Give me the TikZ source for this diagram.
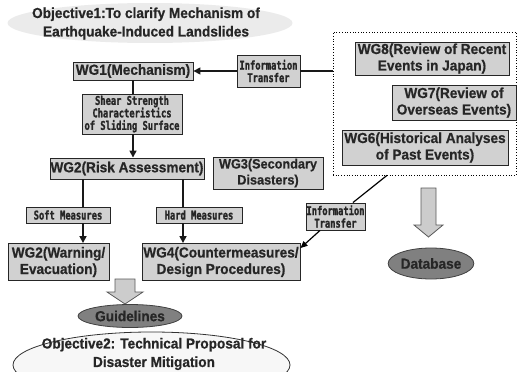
\documentclass[tikz,border=0pt]{standalone}
\usepackage{fontspec}
\setmainfont{Liberation Sans}[FakeStretch=0.94]
\newfontfamily\mainbold{Liberation Sans Bold}[FakeStretch=0.94,FakeBold=0.6]
\newfontfamily\lblfont{DejaVu Sans Mono Bold}[FakeStretch=0.73,FakeBold=1.6]
\usetikzlibrary{arrows.meta,shapes.geometric,calc}
\newcommand\mainf{\mainbold\fontsize{14.5}{16.5}\selectfont}
\newcommand\objf{\mainbold\fontsize{14.5}{18.5}\selectfont}
\newcommand\lblf{\lblfont\fontsize{12}{12.5}\selectfont}
\tikzset{
  wgbox/.style={draw=black!85, fill=black!18, line width=0.9pt, inner sep=0pt,
    align=center, text=black!85, font=\mainf},
  lblbox/.style={wgbox, font=\lblf},
  blob/.style={ellipse, draw=black!75, fill=black!50, line width=0.8pt, inner sep=0pt,
    text=black!85, font=\mainf},
  conn/.style={line width=1.6pt, draw=black!90},
  tip/.style={-{Triangle[length=7pt,width=7pt]}},
  fatarrow/.style={fill=black!20, draw=black!65, line width=0.8pt, line join=miter}
}
\begin{document}
\begin{tikzpicture}[x=1pt,y=-1pt]
\useasboundingbox (0,0) rectangle (517,372);
\clip (0,0) rectangle (517,372);
% objective 1
\fill[black!8] (150,23) ellipse [x radius=142.5, y radius=20];
\node[align=center, font=\objf, text=black!85, inner sep=0pt] (obj1) at (146,23.5)
  {Objective1:To clarify Mechanism of\\Earthquake-Induced Landslides};
% group box
\node[draw=black, dotted, line width=0.7pt, minimum width=183pt, minimum height=143pt, inner sep=0pt] (grp) at (424.5,103.5) {};
\node[wgbox, minimum width=154pt, minimum height=33pt] (wg8) at (432,58.5) {WG8(Review of Recent\\Events in Japan)};
\node[wgbox, minimum width=124pt, minimum height=35pt] (wg7) at (454,102.5) {WG7(Review of\\Overseas Events)};
\node[wgbox, minimum width=166pt, minimum height=35pt] (wg6) at (425,147.5) {WG6(Historical Analyses\\of Past Events)};
% left column
\node[wgbox, minimum width=120pt, minimum height=18pt] (wg1) at (133,71) {WG1(Mechanism)};
\node[lblbox, minimum width=63pt, minimum height=32pt] (info1) at (268.5,71) {Information\\Transfer};
\node[lblbox, minimum width=100pt, minimum height=40pt] (shear) at (132,114) {Shear Strength\\Characteristics\\of Sliding Surface};
\node[wgbox, minimum width=154pt, minimum height=21pt] (wg2) at (127,168.5) {WG2(Risk Assessment)};
\node[wgbox, minimum width=110pt, minimum height=32pt, font=\mainbold\fontsize{13.5}{16}\selectfont] (wg3) at (268,173) {WG3(Secondary\\Disasters)};
\node[lblbox, minimum width=84pt, minimum height=16pt] (soft) at (68,215) {Soft Measures};
\node[lblbox, minimum width=86pt, minimum height=16pt] (hard) at (199,215) {Hard Measures};
\node[wgbox, minimum width=101pt, minimum height=37pt] (wg2w) at (58.5,262) {WG2(Warning/\\Evacuation)};
\node[wgbox, minimum width=158pt, minimum height=37pt] (wg4) at (221,262) {WG4(Countermeasures/\\Design Procedures)};
\node[lblbox, minimum width=59pt, minimum height=27pt] (info2) at (335.5,216.5) {Information\\Transfer};
% block arrows and blobs
\draw[fatarrow] (115,279) -- (135,279) -- (135,292) -- (143,292) -- (125,304) -- (107,292) -- (115,292) -- cycle;
\node[blob, minimum width=104pt, minimum height=23pt] (guide) at (130,316) {Guidelines};
\draw[fatarrow] (421,188) -- (436,188) -- (436,225) -- (443,225) -- (428.5,237) -- (414,225) -- (421,225) -- cycle;
\node[blob, minimum width=79pt, minimum height=31pt] (db) at (431,263.5) {Database};
% objective 2
\draw[fill=black!3, draw=black!80, line width=0.8pt] (151.5,365) ellipse [x radius=138.5, y radius=33];
\node[align=center, font=\objf, text=black!85, inner sep=0pt] (obj2) at (154,354)
  {Objective2: Technical Proposal for\\Disaster Mitigation};
% connectors
\coordinate (xl) at (83,0);
\coordinate (xr) at (183,0);
\coordinate (dx) at (387,0);
\draw[conn,tip] (info1.west |- wg1.east) -- (wg1.east);
\draw[conn] (info1.east |- wg1.east) -- (grp.west |- wg1.east);
\draw[conn] (wg1.south) -- (wg1.south |- shear.north);
\draw[conn,tip] (wg1.south |- shear.south) -- (wg1.south |- wg2.north);
\draw[conn] (wg2.south -| xl) -- (soft.north -| xl);
\draw[conn,tip] (soft.south -| xl) -- (wg2w.north -| xl);
\draw[conn] (wg2.south -| xr) -- (hard.north -| xr);
\draw[conn,tip] (hard.south -| xr) -- (wg4.north -| xr);
\coordinate (dstart) at (grp.south -| dx);
\coordinate (dend) at ($(wg4.north east)+(0,5)$);
\draw[line width=1.2pt] (dstart) -- (info2);
\draw[line width=1.2pt, -{Triangle[length=7pt,width=6pt]}] (info2) -- (dend);
\end{tikzpicture}
\end{document}
